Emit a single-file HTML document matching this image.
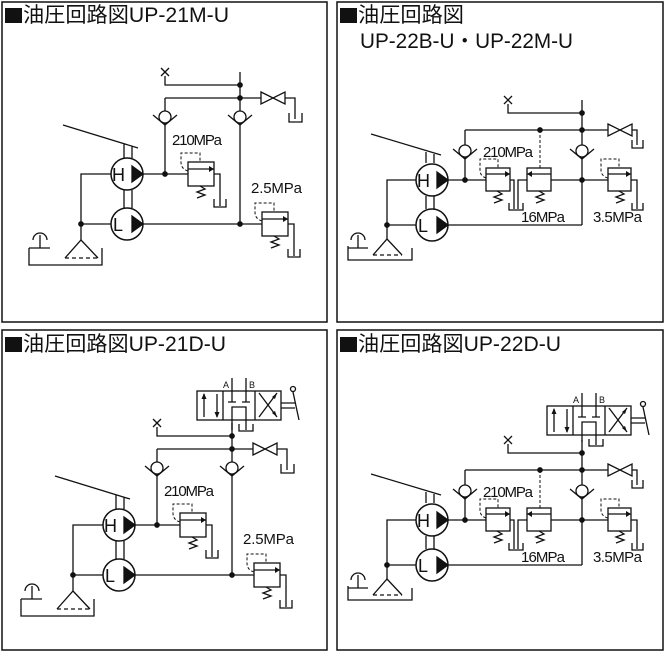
<!DOCTYPE html>
<html><head><meta charset="utf-8"><style>
html,body{margin:0;padding:0;background:#fff;}
svg{display:block;}
.t{font-family:"Liberation Sans","Noto Sans CJK JP",sans-serif;fill:#111;}
</style></head><body>
<svg width="665" height="652" viewBox="0 0 665 652" xmlns="http://www.w3.org/2000/svg">
<defs>
<g id="chk"><polyline points="-12,-2 0,8 12,-2" fill="none" stroke="#111" stroke-width="1.3"/><circle r="6" fill="#fff" stroke="#111" stroke-width="1.3"/></g>
<g id="xm" stroke="#111" stroke-width="1.3"><line x1="-4" y1="-4" x2="4" y2="4"/><line x1="4" y1="-4" x2="-4" y2="4"/></g>
<g id="dot"><circle r="2.2" fill="#111"/></g>
<polygon id="gate" points="0,-6 24,6 24,-6 0,6" fill="#fff" stroke="#111" stroke-width="1.3"/>
<g id="pmp"><circle r="16" fill="#fff" stroke="#111" stroke-width="1.5"/><polygon points="5,-8 16,0 5,8" fill="#111"/></g>
<g id="rel" fill="none" stroke="#111" stroke-width="1.3">
 <rect x="0" y="-12" width="26" height="24" fill="#fff"/>
 <path d="M0,-5 H26"/><polygon points="21,-8 26,-5 21,-2" fill="#111" stroke="none"/>
 <path d="M0,-3 Q-7,-5 -7,-12 V-21 H12 V-12" stroke-dasharray="3,2" stroke-width="1"/>
 <polyline points="12,12 17,15 9,18 17,21 9,24"/>
 <path d="M26,0 H32 V32"/><path d="M26,25 V33 H38 V25"/>
</g>
<g id="dv" fill="none" stroke="#111" stroke-width="1.3">
 <rect x="-35" y="-29" width="84" height="29" fill="#fff"/>
 <path d="M-9,-29 V0 M23,-29 V0"/>
 <path d="M-28,-3 V-26 M-15,-26 V-3"/>
 <polygon points="-30.5,-21 -28,-27 -25.5,-21" fill="#111" stroke="none"/>
 <polygon points="-17.5,-8 -15,-2 -12.5,-8" fill="#111" stroke="none"/>
 <path d="M0,-42 V-18 M-4,-18 H4 M14,-42 V-18 M10,-18 H18"/>
 <path d="M0,0 V-13 H14 V10 M7,4 V11 H21 V4"/>
 <path d="M27,-3 L45,-27 M27,-27 L45,-3"/>
 <polygon points="45,-27 40,-23 43,-21" fill="#111" stroke="none"/>
 <polygon points="45,-3 40,-7 43,-9" fill="#111" stroke="none"/>
 <path d="M49,-17 H63 M49,-12 H63 M61,-28 L67,0"/>
 <circle cx="61" cy="-31" r="2.5"/>
</g>
<g id="p1" fill="none" stroke="#111" stroke-width="1.3">
 <path d="M165,76 V85 H240 M240,72 V224 M165,98 H261 M285,98 H295 V119 M289,113 V122 H302 V113 M165,98 V174"/>
 <path d="M143,174 H188 M143,224 H262 M111,174 H81 V240 M81,224 H111"/>
 <path d="M63,125 L138,148 M124,144 V158 M132,146 V158 M124,190 V208 M132,190 V208"/>
 <path d="M65,258 L81,240 L98,258"/><path d="M65,258 H98" stroke-dasharray="4,3"/>
 <path d="M29,248 V265 H102 V248 M29,248 H50 M40,248 V235 M33,240 A7,7 0 0 1 47,240"/>
 <use href="#chk" x="165" y="117"/><use href="#chk" x="240" y="117"/>
 <use href="#xm" x="165" y="72"/><use href="#gate" x="261" y="98"/>
 <use href="#dot" x="240" y="85"/><use href="#dot" x="240" y="98"/><use href="#dot" x="165" y="174"/><use href="#dot" x="81" y="224"/><use href="#dot" x="240" y="224"/>
 <use href="#pmp" x="127" y="174"/><use href="#pmp" x="127" y="224"/>
 <use href="#rel" x="188" y="174"/><use href="#rel" x="262" y="224"/>
 <text class="t" x="112" y="181" font-size="18" stroke="none">H</text>
 <text class="t" x="113" y="231" font-size="18" stroke="none">L</text>
 <text class="t" x="172" y="145" font-size="15" textLength="50" stroke="none">210MPa</text>
 <text class="t" x="251" y="193" font-size="15" textLength="51" stroke="none">2.5MPa</text>
</g>
<g id="p2" fill="none" stroke="#111" stroke-width="1.3">
 <path d="M508,104 V113 H582 M582,100 V225 M465,130 H608 M630,130 H637 V145 M632,140 V148 H643 V140 M465,130 V180"/>
 <path d="M446,180 H487 M551,180 H608 M446,225 H582 M416,180 H387 V240 M387,225 H416"/>
 <path d="M371,134 L441,155 M426,152 V163 M434,154 V163 M426,196 V209 M434,196 V209"/>
 <path d="M373,255 L387,239 L402,255"/><path d="M373,255 H402" stroke-dasharray="4,3"/>
 <path d="M348,246 V260 H412 V248 M348,248 H368 M358,248 V235 M351,240 A7,7 0 0 1 365,240"/>
 <path d="M540,130 V168" stroke-dasharray="3,2" stroke-width="1"/>
 <rect x="486" y="168" width="24" height="23" fill="#fff"/><path d="M486,174 H510"/><polygon points="505,171 510,174 505,177" fill="#111" stroke="none"/>
 <path d="M486,178 Q480,176 480,170 V159 H498 V168" stroke-dasharray="3,2" stroke-width="1"/>
 <polyline points="497,191 502,194 494,197 502,200 494,203"/>
 <path d="M510,180 H514 V209"/>
 <rect x="527" y="168" width="24" height="23" fill="#fff"/><path d="M527,174 H551"/><polygon points="532,171 527,174 532,177" fill="#111" stroke="none"/>
 <polyline points="539,191 544,194 536,197 544,200 536,203"/>
 <path d="M527,180 H518 V209 M509,203 V210 H523 V203"/>
 <rect x="608" y="168" width="23" height="23" fill="#fff"/><path d="M608,174 H631"/><polygon points="626,171 631,174 626,177" fill="#111" stroke="none"/>
 <path d="M608,178 Q601,176 601,170 V159 H619 V168" stroke-dasharray="3,2" stroke-width="1"/>
 <polyline points="619,191 624,194 616,197 624,200 616,203"/>
 <path d="M631,180 H637 V209 M632,203 V210 H643 V203"/>
 <use href="#chk" x="465" y="151"/><use href="#chk" x="582" y="151"/>
 <use href="#xm" x="508" y="100"/><use href="#gate" x="608" y="130"/>
 <use href="#dot" x="582" y="113"/><use href="#dot" x="582" y="130"/><use href="#dot" x="540" y="130"/><use href="#dot" x="465" y="180"/><use href="#dot" x="582" y="180"/><use href="#dot" x="387" y="225"/>
 <use href="#pmp" x="432" y="180"/><use href="#pmp" x="432" y="225"/>
 <text class="t" x="417" y="187" font-size="18" stroke="none">H</text>
 <text class="t" x="418" y="232" font-size="18" stroke="none">L</text>
 <text class="t" x="483" y="157" font-size="15" textLength="50" stroke="none">210MPa</text>
 <text class="t" x="521" y="222" font-size="15" textLength="44" stroke="none">16MPa</text>
 <text class="t" x="593" y="222" font-size="15" textLength="49" stroke="none">3.5MPa</text>
</g>
</defs>
<g fill="none" stroke="#111" stroke-width="1.5">
<rect x="2" y="2" width="325" height="320"/>
<rect x="337" y="2" width="326" height="320"/>
<rect x="2" y="330" width="325" height="320"/>
<rect x="337" y="330" width="326" height="320"/>
</g>
<rect x="5" y="8" width="17" height="15" fill="#111"/>
<text class="t" x="23" y="22" font-size="21" textLength="206" lengthAdjust="spacingAndGlyphs">油圧回路図UP-21M-U</text>
<rect x="340" y="8" width="17" height="15" fill="#111"/>
<text class="t" x="358" y="22" font-size="21" textLength="106" lengthAdjust="spacingAndGlyphs">油圧回路図</text>
<text class="t" x="360" y="48" font-size="21" textLength="213" lengthAdjust="spacingAndGlyphs">UP-22B-U・UP-22M-U</text>
<rect x="5" y="337" width="17" height="15" fill="#111"/>
<text class="t" x="23" y="351" font-size="21" textLength="203" lengthAdjust="spacingAndGlyphs">油圧回路図UP-21D-U</text>
<rect x="340" y="337" width="17" height="15" fill="#111"/>
<text class="t" x="358" y="351" font-size="21" textLength="203" lengthAdjust="spacingAndGlyphs">油圧回路図UP-22D-U</text>

<use href="#p1"/>
<use href="#p2"/>
<g transform="translate(-8,351)"><use href="#p1"/></g>
<g transform="translate(0,340)"><use href="#p2"/></g>

<path d="M232,420 V430 M582,435 V442" stroke="#111" stroke-width="1.3"/>
<use href="#dv" x="232" y="420"/>
<use href="#dv" x="582" y="435"/>
<text class="t" x="223" y="388" font-size="9">A</text>
<text class="t" x="249" y="388" font-size="9">B</text>
<text class="t" x="573" y="403" font-size="9">A</text>
<text class="t" x="599" y="403" font-size="9">B</text>
</svg>
</body></html>
